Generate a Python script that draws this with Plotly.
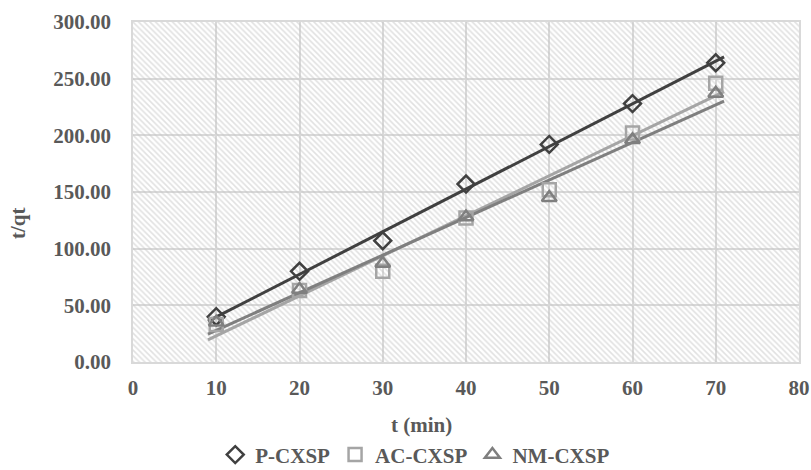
import numpy as np
import plotly.graph_objects as go

# Sampling times (min) and t/qt values for each adsorbent
t_min = [10, 20, 30, 40, 50, 60, 70]
p_cxsp = [40, 80, 107, 157, 192, 228, 264]
ac_cxsp = [33, 63, 80, 127, 152, 202, 246]
nm_cxsp = [35, 64, 87, 128, 145, 196, 237]

series = [
    ("P-CXSP", p_cxsp, "diamond-open", "#404040", "#404040"),
    ("AC-CXSP", ac_cxsp, "square-open", "#a5a5a5", "#a5a5a5"),
    ("NM-CXSP", nm_cxsp, "triangle-up-open", "#7f7f7f", "#7f7f7f"),
]

FONT = "Liberation Serif"
TXT = "#595959"
GRID = "#d9d9d9"
FS = 21
TREND_PAD = 1.0  # forward/backward forecast of the trend lines (min)

fig = go.Figure()

# hatched plot background
fig.add_trace(go.Scatter(
    x=[0, 80, 80, 0, 0], y=[0, 0, 300, 300, 0],
    mode="lines", fill="toself", line=dict(width=0),
    fillcolor="rgba(0,0,0,0)",
    fillpattern=dict(shape="\\", size=4, solidity=0.4,
                     fgcolor="#c4c4c4", bgcolor="rgba(0,0,0,0)"),
    hoverinfo="skip", showlegend=False,
))

# linear trend lines (least squares)
for name, ys, sym, mcol, lcol in series:
    k, b = np.polyfit(t_min, ys, 1)
    xs = np.array([t_min[0] - TREND_PAD, t_min[-1] + TREND_PAD])
    fig.add_trace(go.Scatter(
        x=xs, y=k * xs + b, mode="lines",
        line=dict(color=lcol, width=3), showlegend=False, hoverinfo="skip",
    ))

# measured points
for name, ys, sym, mcol, lcol in series:
    fig.add_trace(go.Scatter(
        x=t_min, y=ys, mode="markers", name=name,
        marker=dict(symbol=sym, size=13, color=mcol, line=dict(color=mcol, width=2.5)),
    ))

bold = dict(family=FONT, size=FS, color=TXT, weight="bold")

W, H = 811, 470
ML, MR, MT, MB = 133, 12, 22, 108


def px_to_paper(px, py):
    """Convert page pixel coordinates to paper coordinates of the plot area."""
    return (px - ML) / (W - ML - MR), (H - py - MB) / (H - MB - MT)


tx, ty = px_to_paper(421, 425)
yx, yy = px_to_paper(18, 223)

fig.update_layout(
    width=W, height=H,
    margin=dict(l=ML, r=MR, t=MT, b=MB, autoexpand=False),
    paper_bgcolor="white", plot_bgcolor="white",
    font=dict(family=FONT, size=FS, color=TXT),
    showlegend=True,
    legend=dict(orientation="h", x=0.512, xanchor="center", xref="container",
                y=0.032, yanchor="middle", yref="container",
                font=bold, itemwidth=30, tracegroupgap=0),
    annotations=[
        dict(text="t (min)", x=tx, y=ty, xref="paper", yref="paper",
             showarrow=False, font=bold, xanchor="center", yanchor="middle"),
        dict(text="t/qt", x=yx, y=yy, xref="paper", yref="paper", textangle=-90,
             showarrow=False, font=bold, xanchor="center", yanchor="middle"),
    ],
)

fig.update_xaxes(
    range=[0, 80], dtick=10, tick0=0, automargin=False,
    showgrid=True, gridcolor=GRID, gridwidth=1.5,
    showline=True, linecolor=GRID, linewidth=1.5, mirror=True,
    zeroline=False, ticks="", ticklabelstandoff=6,
    tickfont=bold,
)
fig.update_yaxes(
    range=[0, 300], dtick=50, tick0=0, tickformat=".2f", automargin=False,
    showgrid=True, gridcolor=GRID, gridwidth=1.5,
    showline=True, linecolor=GRID, linewidth=1.5, mirror=True,
    zeroline=False, ticks="", ticklabelstandoff=16,
    tickfont=bold,
)

fig.write_html("out.html")
